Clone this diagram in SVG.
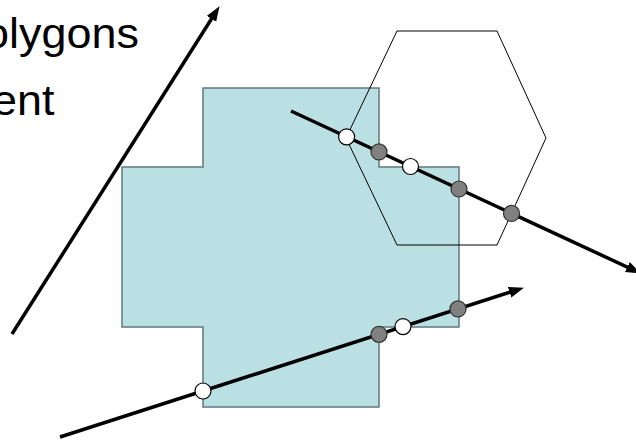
<svg xmlns="http://www.w3.org/2000/svg" width="636" height="443" viewBox="0 0 636 443">
<style>
.title{font-family:"Liberation Sans",Arial,sans-serif;font-size:42px;fill:#000}
.seg{stroke:#000;stroke-width:3.5;fill:none;marker-end:url(#arr)}
.hit{fill:#808080;stroke:#333;stroke-width:1.2}
.end{fill:#fff;stroke:#000;stroke-width:1.2}
</style>
<defs>
<marker id="arr" markerUnits="userSpaceOnUse" markerWidth="16" markerHeight="12" refX="9" refY="5.5" orient="auto">
<path d="M0,0 L15,5.5 L0,11 z" fill="#000"/>
</marker>
</defs>
<rect width="636" height="443" fill="#fff"/>
<g id="text">
<text class="title" transform="translate(-16,48) scale(1.07,1)">olygons</text>
<text class="title" transform="translate(-8,115) scale(1.07,1)">ent</text>
</g>
<g id="cross">
<polygon points="203,88 379,88 379,167 459,167 459,327 379,327 379,407 203,407 203,327 122,327 122,167 203,167" fill="#bbe0e3" stroke="#5f7a7d" stroke-width="1.5"/>
</g>
<g id="hexagon">
<polygon points="397,31 497,31 546,138 497,245 397,245 346,138" fill="none" stroke="#000" stroke-width="1"/>
</g>
<g id="connectors">
<line class="seg" x1="12" y1="334" x2="216.3" y2="11.2"/>
<line class="seg" x1="291" y1="111" x2="635.5" y2="270.9"/>
<line class="seg" x1="60" y1="437" x2="518.2" y2="289.5"/>
</g>
<g id="points">
<circle class="end" cx="346.6" cy="136.8" r="8"/>
<circle class="hit" cx="379" cy="151.9" r="8"/>
<circle class="end" cx="410.5" cy="166.5" r="8"/>
<circle class="hit" cx="459" cy="189" r="8"/>
<circle class="hit" cx="511.5" cy="213.4" r="8"/>
<circle class="end" cx="203" cy="391" r="8"/>
<circle class="hit" cx="379" cy="334.3" r="8"/>
<circle class="end" cx="403" cy="326.6" r="8"/>
<circle class="hit" cx="458" cy="308.9" r="8"/>
</g>
</svg>
